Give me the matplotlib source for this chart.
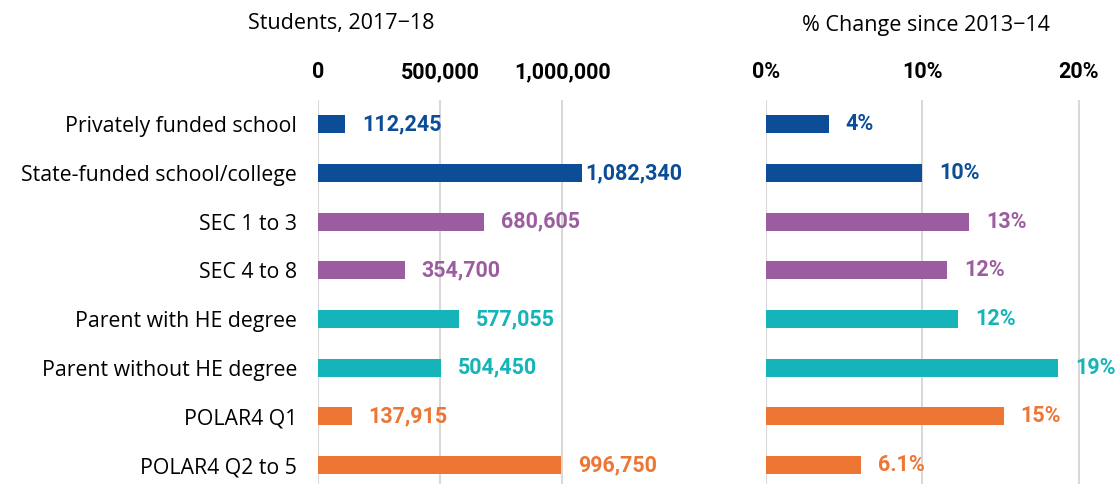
import matplotlib.pyplot as plt

categories = ["Privately funded school", "State-funded school/college", "SEC 1 to 3",
              "SEC 4 to 8", "Parent with HE degree", "Parent without HE degree",
              "POLAR4 Q1", "POLAR4 Q2 to 5"]
students = [112245, 1082340, 680605, 354700, 577055, 504450, 137915, 996750]
pct_change = [4.0, 10.0, 13.0, 11.6, 12.3, 18.7, 15.2, 6.1]
pct_labels = ["4%", "10%", "13%", "12%", "12%", "19%", "15%", "6.1%"]
colors = ["#0B4D96", "#0B4D96", "#9C5CA0", "#9C5CA0",
          "#14B4B8", "#14B4B8", "#EE7634", "#EE7634"]

bold_font = "Roboto"
plt.rcParams["font.family"] = ["Open Sans", "DejaVu Sans"]

fig = plt.figure(figsize=(11.19, 4.84), dpi=100)
W, H = 1119, 484
ax1 = fig.add_axes([318 / W, 0, (611 - 318) / W, (484 - 100) / H])
ax2 = fig.add_axes([766 / W, 0, (1110 - 766) / W, (484 - 100) / H])

y = list(range(len(categories)))

ax1.barh(y, students, height=0.37, color=colors, zorder=3)
ax1.set_xlim(0, 1200000)
ax1.set_xticks([0, 500000, 1000000])
ax1.set_xticklabels(["0", "500,000", "1,000,000"])
for i, v in enumerate(students):
    off = 2 if v > 1050000 else 12
    ax1.annotate(f"{v:,}", (v, i), xytext=(off, 0), textcoords="offset points",
                 va="center", ha="left", color=colors[i], fontsize=15.5,
                 fontweight="bold", family=bold_font, clip_on=False)

ax2.barh(y, pct_change, height=0.37, color=colors, zorder=3)
ax2.set_xlim(0, 22)
ax2.set_xticks([0, 10, 20])
ax2.set_xticklabels(["0%", "10%", "20%"])
for i, v in enumerate(pct_change):
    ax2.annotate(pct_labels[i], (v, i), xytext=(12, 0), textcoords="offset points",
                 va="center", ha="left", color=colors[i], fontsize=15.5,
                 fontweight="bold", family=bold_font, clip_on=False)

for ax in (ax1, ax2):
    ax.set_ylim(7.39, -0.5)
    ax.set_yticks(y)
    ax.xaxis.tick_top()
    ax.tick_params(axis="x", length=0, pad=12)
    ax.tick_params(axis="y", length=0)
    for lab in ax.get_xticklabels():
        lab.set_fontweight("bold")
        lab.set_family(bold_font)
        lab.set_fontsize(15.5)
    ax.grid(axis="x", color="#D9D9D9", linewidth=1.5, zorder=0)
    for s in ax.spines.values():
        s.set_visible(False)

ax1.set_yticklabels(categories, fontsize=15.3)
ax1.tick_params(axis="y", pad=15)
ax2.set_yticklabels([])

fig.text(341 / W, 1 - 23 / H, "Students, 2017\u221218", ha="center", va="center", fontsize=15.5)
fig.text(926 / W, 1 - 25 / H, "% Change since 2013\u221214", ha="center", va="center", fontsize=15.5)

fig.savefig("out.png", dpi=100)
